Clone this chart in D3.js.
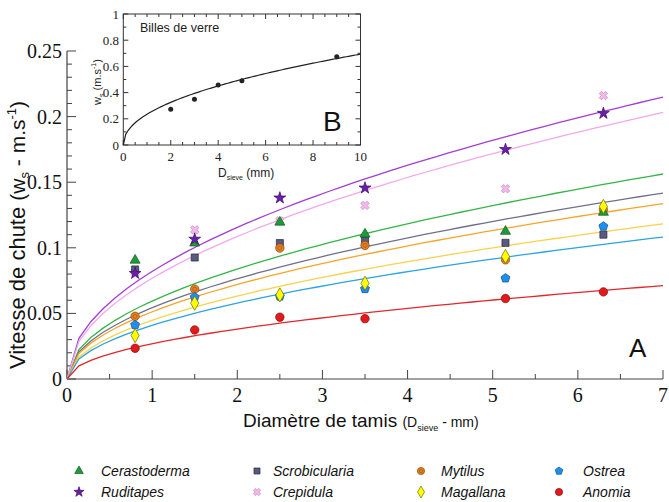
<!DOCTYPE html>
<html><head><meta charset="utf-8">
<script src="https://cdn.jsdelivr.net/npm/d3@7"></script>
<style>html,body{margin:0;padding:0;background:#fff;}svg{display:block;}</style>
</head><body><svg id="chart" width="669" height="502"></svg>
<script>
// ---------- DATA ----------
const sieveSizes = [0.8, 1.5, 2.5, 3.5, 5.15, 6.3];
const species = ["Cerastoderma","Ruditapes","Scrobicularia","Crepidula","Mytilus","Magallana","Ostrea","Anomia"];
const cerastoderma  = [0.0905, 0.1036, 0.1195, 0.1104, 0.1125, 0.127];
const ruditapes     = [0.0805, 0.1066, 0.138, 0.1456, 0.175, 0.2025];
const scrobicularia = [0.0835, 0.0926, 0.1036, 0.1056, 0.1038, 0.110];
const crepidula     = [0.0815, 0.1137, 0.1205, 0.1323, 0.145, 0.216];
const mytilus       = [0.0478, 0.0685, 0.0998, 0.1018, 0.0908, 0.129];
const magallana     = [0.0331, 0.0578, 0.0641, 0.073, 0.0934, 0.1315];
const ostrea        = [0.0412, 0.0624, 0.0630, 0.0687, 0.0768, 0.1163];
const anomia        = [0.0234, 0.0374, 0.0471, 0.046, 0.0613, 0.0664];
// power-law fits ws = a * D^b
const fitA = [0.0594, 0.082, 0.0543, 0.0768, 0.0512, 0.0447, 0.0409, 0.0269];
const fitB = [0.497, 0.495, 0.493, 0.5, 0.493, 0.5, 0.5, 0.5];
const xTicks = [0,1,2,3,4,5,6,7];
const yTicks = [0,0.05,0.1,0.15,0.2,0.25];
const yTickLabels = ["0","0.05","0.1","0.15","0.2","0.25"];
// inset: glass beads
const beadSizes = [2, 3, 4, 5, 9];
const beadSpeeds = [0.272, 0.349, 0.458, 0.491, 0.674];
const beadFit = [0.235, 0.47];
const insetXTicks = [0,2,4,6,8,10];
const insetYTicks = [0,0.2,0.4,0.6,0.8,1];
const insetYTickLabels = ["0","0.2","0.4","0.6","0.8","1"];

const values = [cerastoderma, ruditapes, scrobicularia, crepidula, mytilus, magallana, ostrea, anomia];
const lineColors = ["#35b547","#a13ed6","#70708e","#f2a9ec","#f5a52a","#f8d24c","#2aa4e2","#e2282c"];
const fillColors = ["#1f9a3a","#6a1fa8","#5a5a80","#f5b9e9","#e8801e","#ffff00","#1e8ff0","#e31a1c"];
const strokeColors = ["#0d5c1e","#3d0a6b","#26263c","#c58ac2","#8a4a10","#6a6a00","#10508a","#8a0a0a"];
const symbolTypes = ["triangle","star","square","cross","mcircle","diamond","pentagon","circle"];
const drawOrder = [3,2,4,0,1,6,5,7];

const svg = d3.select("#chart");
const SANS = "'Liberation Sans', Arial, sans-serif";
const SERIF = "'Liberation Serif', 'Times New Roman', serif";

// ---------- MAIN ----------
const x = d3.scaleLinear().domain([0,7]).range([67,663]);
const y = d3.scaleLinear().domain([0,0.25]).range([379,51]);

const g = svg.append("g");
g.append("line").attr("x1",x(0)).attr("x2",x(7)).attr("y1",y(0)).attr("y2",y(0)).attr("stroke","#444").attr("stroke-width",1.2);
g.append("line").attr("x1",x(0)).attr("x2",x(0)).attr("y1",y(0)).attr("y2",y(0.25)).attr("stroke","#444").attr("stroke-width",1.2);
const yMinor = d3.range(0,0.2501,0.01);
g.selectAll(".ymin").data(yMinor).join("line")
  .attr("x1",x(0)).attr("x2",d=> (Math.round(d*100)%5===0)? x(0)+9 : x(0)+5)
  .attr("y1",d=>y(d)).attr("y2",d=>y(d)).attr("stroke","#444").attr("stroke-width",1);
g.selectAll(".ylab").data(yTicks).join("text")
  .attr("x",62).attr("y",d=>y(d)+7).attr("text-anchor","end")
  .attr("font-family",SERIF).attr("font-size",20).attr("fill","#111")
  .text((d,i)=>yTickLabels[i]);
const xMinor = d3.range(0,7.01,0.5);
g.selectAll(".xmin").data(xMinor).join("line")
  .attr("x1",d=>x(d)).attr("x2",d=>x(d)).attr("y1",y(0))
  .attr("y2",d=> (Math.abs(d-Math.round(d))<1e-6)? y(0)-9 : y(0)-5)
  .attr("stroke","#444").attr("stroke-width",1);
g.selectAll(".xlab").data(xTicks).join("text")
  .attr("x",d=>x(d)).attr("y",402).attr("text-anchor","middle")
  .attr("font-family",SERIF).attr("font-size",20).attr("fill","#111")
  .text(d=>d);

// fit curves
const curveX = d3.range(0, 7.0001, 0.14);
const line = d3.line().x(d=>x(d[0])).y(d=>y(d[1]));
species.forEach((s,i)=>{
  const pts = curveX.map(v=>[v, fitA[i]*Math.pow(v, fitB[i])]);
  g.append("path").attr("d",line(pts)).attr("fill","none")
   .attr("stroke",lineColors[i]).attr("stroke-width",1.3);
});

// symbols
function drawSymbol(sel, type, cx, cy, i, scale){
  scale = scale||1;
  const fill = fillColors[i], st = strokeColors[i];
  let path;
  const s2 = scale*scale;
  if(type==="triangle") path = d3.symbol(d3.symbolTriangle, 44*s2)();
  else if(type==="star") path = d3.symbol(d3.symbolStar, 44*s2)();
  else if(type==="square") path = d3.symbol(d3.symbolSquare, 50*s2)();
  else if(type==="diamond") path = d3.symbol(d3.symbolDiamond, 58*s2)();
  else if(type==="cross") path = d3.symbol(d3.symbolCross, 44*s2)();
  else if(type==="pentagon"){
    const r=4.7*scale; const p=d3.path();
    for(let k=0;k<5;k++){const a=-Math.PI/2+k*2*Math.PI/5; const px=r*Math.cos(a), py=r*Math.sin(a); if(k===0)p.moveTo(px,py); else p.lineTo(px,py);} p.closePath(); path=p.toString();
  }
  else path = d3.symbol(d3.symbolCircle, 56*s2)();
  const tr = `translate(${cx},${cy})` + (type==="cross"?" rotate(45)":"");
  sel.append("path").attr("d",path).attr("transform",tr)
    .attr("fill",fill).attr("stroke",st).attr("stroke-width",0.7);
  if(type==="mcircle"){
    sel.append("circle").attr("cx",cx).attr("cy",cy).attr("r",2*scale)
      .attr("fill","none").attr("stroke","#b85f10").attr("stroke-width",0.9);
  }
}
const mk = g.append("g");
drawOrder.forEach(i=>{
  values[i].forEach((v,j)=>{
    drawSymbol(mk, symbolTypes[i], x(sieveSizes[j]), y(v), i);
  });
});

g.append("text").attr("x",629).attr("y",357).attr("font-family",SANS).attr("font-size",26).attr("fill","#111").text("A");

// axis titles
svg.append("text").attr("x",243).attr("y",427).attr("font-family",SANS).attr("fill","#111")
  .call(t=>{
    t.append("tspan").attr("font-size",19).text("Diamètre de tamis ");
    t.append("tspan").attr("font-size",14).text("(D");
    t.append("tspan").attr("font-size",9).attr("dy",4).text("sieve");
    t.append("tspan").attr("font-size",14).attr("dy",-4).text(" - mm)");
  });
svg.append("text").attr("transform","translate(25,235) rotate(-90)").attr("text-anchor","middle")
  .attr("font-family",SANS).attr("fill","#111")
  .call(t=>{
    t.append("tspan").attr("font-size",22).text("Vitesse de chute ");
    t.append("tspan").attr("font-size",21).text("(w");
    t.append("tspan").attr("font-size",13).attr("dy",4).text("s");
    t.append("tspan").attr("font-size",21).attr("dy",-4).text(" - m.s");
    t.append("tspan").attr("font-size",13).attr("dy",-9).text("-1");
    t.append("tspan").attr("font-size",21).attr("dy",9).text(")");
  });

// legend
const legX = [79, 257, 421, 559];
const legTX = [101, 273, 441, 583];
const legY = [471, 492];
const legendOrder = [[0,2,4,6],[1,3,5,7]];
const lg = svg.append("g");
legendOrder.forEach((row,r)=>{
  row.forEach((i,c)=>{
    drawSymbol(lg, symbolTypes[i], legX[c], legY[r], i, 0.85);
    lg.append("text").attr("x",legTX[c]).attr("y",legY[r]+5)
      .attr("font-family",SANS).attr("font-style","italic").attr("font-size",14).attr("fill","#111")
      .text(species[i]);
  });
});

// ---------- INSET ----------
const ix = d3.scaleLinear().domain([0,10]).range([123.3,360.5]);
const iy = d3.scaleLinear().domain([0,1]).range([145,14]);
const ig = svg.append("g");
ig.append("rect").attr("x",ix(0)).attr("y",iy(1)).attr("width",ix(10)-ix(0)).attr("height",iy(0)-iy(1))
  .attr("fill","#fff").attr("stroke","#333").attr("stroke-width",1);
const ixMinor = d3.range(0,10.01,0.5);
ixMinor.forEach(d=>{
  const L = (Math.abs(d/2-Math.round(d/2))<1e-6)?5:3;
  ig.append("line").attr("x1",ix(d)).attr("x2",ix(d)).attr("y1",iy(0)).attr("y2",iy(0)-L).attr("stroke","#333");
  ig.append("line").attr("x1",ix(d)).attr("x2",ix(d)).attr("y1",iy(1)).attr("y2",iy(1)+L).attr("stroke","#333");
});
const iyMinor = d3.range(0,1.001,0.1);
iyMinor.forEach(d=>{
  const L = (Math.round(d*10)%2===0)?5:3;
  ig.append("line").attr("x1",ix(0)).attr("x2",ix(0)+L).attr("y1",iy(d)).attr("y2",iy(d)).attr("stroke","#333");
  ig.append("line").attr("x1",ix(10)).attr("x2",ix(10)-L).attr("y1",iy(d)).attr("y2",iy(d)).attr("stroke","#333");
});
ig.selectAll(".ixl").data(insetXTicks).join("text").attr("x",d=>ix(d)).attr("y",161).attr("text-anchor","middle")
  .attr("font-family",SERIF).attr("font-size",13).attr("fill","#222").text(d=>d);
ig.selectAll(".iyl").data(insetYTicks).join("text").attr("x",119).attr("y",d=>iy(d)+4.5).attr("text-anchor","end")
  .attr("font-family",SERIF).attr("font-size",13).attr("fill","#222").text((d,i)=>insetYTickLabels[i]);
const icX = d3.range(0,10.0001,0.1);
ig.append("path").attr("d", d3.line().x(d=>ix(d[0])).y(d=>iy(d[1]))(icX.map(v=>[v, beadFit[0]*Math.pow(v,beadFit[1])])))
  .attr("fill","none").attr("stroke","#222").attr("stroke-width",1.2);
ig.selectAll(".bp").data(beadSizes).join("circle").attr("cx",d=>ix(d)).attr("cy",(d,i)=>iy(beadSpeeds[i])).attr("r",2.5).attr("fill","#222");
ig.append("text").attr("x",140).attr("y",32).attr("font-family",SANS).attr("font-size",12.5).attr("fill","#222").text("Billes de verre");
ig.append("text").attr("x",323).attr("y",131).attr("font-family",SANS).attr("font-size",28).attr("fill","#111").text("B");
ig.append("text").attr("x",218).attr("y",177).attr("font-family",SANS).attr("fill","#222")
  .call(t=>{
    t.append("tspan").attr("font-size",12).text("D");
    t.append("tspan").attr("font-size",7).attr("dy",3).text("sieve");
    t.append("tspan").attr("font-size",12).attr("dy",-3).text(" (mm)");
  });
ig.append("text").attr("transform","translate(101,82) rotate(-90)").attr("text-anchor","middle")
  .attr("font-family",SANS).attr("fill","#222")
  .call(t=>{
    t.append("tspan").attr("font-size",11).text("w");
    t.append("tspan").attr("font-size",7).attr("dy",3).text("s");
    t.append("tspan").attr("font-size",11).attr("dy",-3).text(" (m.s");
    t.append("tspan").attr("font-size",7).attr("dy",-5).text("-1");
    t.append("tspan").attr("font-size",11).attr("dy",5).text(")");
  });
</script></body></html>
